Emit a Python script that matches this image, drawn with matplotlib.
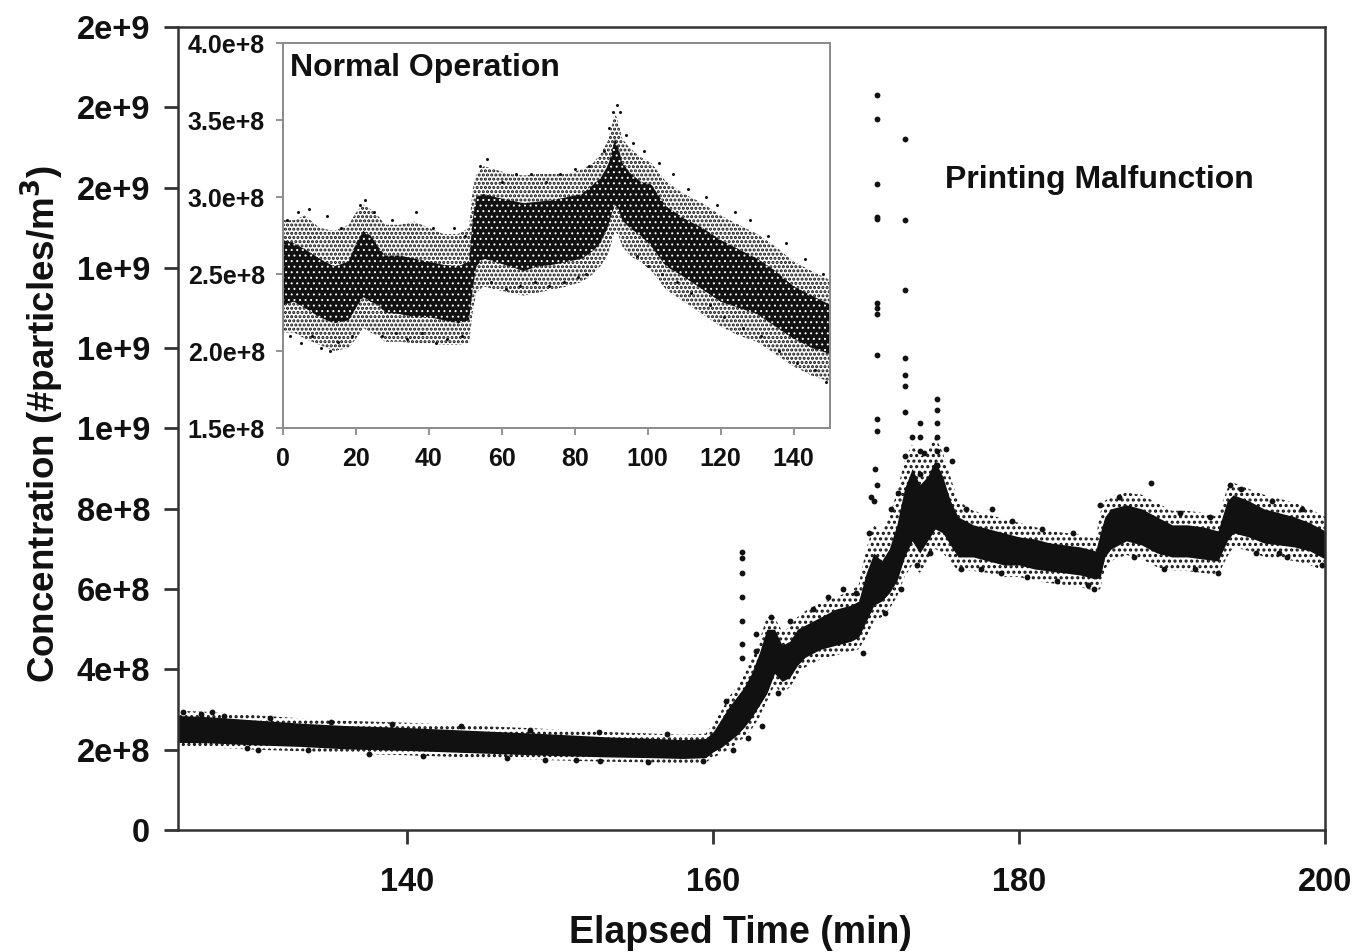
"""Particle concentration during printing: main trace with a normal-operation inset."""

import matplotlib

matplotlib.use("Agg")
import matplotlib.pyplot as plt
from matplotlib.ticker import FuncFormatter, MultipleLocator

plt.rcParams["font.family"] = ["Liberation Sans", "DejaVu Sans"]
plt.rcParams["hatch.linewidth"] = 1.5

INK = "#111111"
SPINE = "#333333"
INSET_FRAME = "#8a8a8a"
UNIT = 1e8  # all concentrations below are in units of 1e8 particles/m^3

# ---- main trace: dense core and outer extent of the point cloud ----
main_time = [125, 127, 130, 133, 136, 140, 143, 146, 150, 153, 156, 158, 159.5, 160, 160.5,
             161, 161.5, 162, 162.5, 163, 163.5, 164, 164.5, 165, 165.5, 166, 167, 168, 169,
             169.5, 170, 170.5, 171, 171.5, 172, 172.5, 173, 173.5, 174, 174.5, 175, 175.5,
             176, 177, 178, 179, 180, 181, 182, 183, 184, 185, 185.3, 185.6, 186, 187, 188,
             189, 190, 191, 192, 193, 193.6, 194, 195, 196, 197, 198, 199, 200]
main_low = [2.18, 2.17, 2.12, 2.08, 2.02, 1.98, 1.94, 1.90, 1.85, 1.82, 1.80, 1.78, 1.80, 1.95, 2.05,
            2.20, 2.35, 2.55, 2.80, 3.10, 3.40, 3.90, 3.70, 3.80, 4.10, 4.30, 4.50, 4.60, 4.70,
            4.80, 5.20, 5.60, 5.70, 5.90, 6.20, 6.80, 7.20, 6.90, 7.20, 7.50, 7.40, 7.10,
            6.80, 6.80, 6.70, 6.60, 6.60, 6.50, 6.45, 6.40, 6.35, 6.25, 6.30, 6.80, 7.00, 7.20, 7.10,
            6.90, 6.80, 6.80, 6.75, 6.70, 7.20, 7.40, 7.30, 7.15, 7.10, 7.05, 6.95, 6.75]
main_high = [2.85, 2.82, 2.74, 2.66, 2.60, 2.55, 2.50, 2.45, 2.38, 2.32, 2.28, 2.25, 2.28, 2.45, 2.75,
             3.05, 3.30, 3.55, 3.90, 4.40, 5.00, 5.00, 4.60, 4.70, 5.00, 5.10, 5.30, 5.50, 5.60,
             5.70, 6.40, 6.90, 6.70, 7.00, 7.60, 8.50, 9.00, 8.60, 8.80, 9.20, 8.80, 8.20,
             7.80, 7.60, 7.50, 7.40, 7.30, 7.25, 7.15, 7.10, 7.05, 6.95, 7.40, 7.80, 8.00, 8.10, 8.00,
             7.80, 7.60, 7.60, 7.55, 7.45, 8.20, 8.35, 8.20, 8.00, 7.90, 7.80, 7.65, 7.45]
main_outer_low = [2.06, 2.05, 2.00, 1.96, 1.90, 1.86, 1.82, 1.78, 1.73, 1.70, 1.68, 1.66, 1.68, 1.80,
                  1.90, 2.00, 2.15, 2.30, 2.50, 2.80, 3.20, 3.60, 3.40, 3.55, 3.85, 4.05, 4.25, 4.35,
                  4.45, 4.50, 4.80, 5.20, 5.30, 5.50, 5.80, 6.30, 6.60, 6.40, 6.70, 7.00, 6.90, 6.70,
                  6.45, 6.45, 6.40, 6.30, 6.30, 6.20, 6.15, 6.10, 6.05, 5.95, 6.00, 6.50, 6.70, 6.85,
                  6.75, 6.55, 6.45, 6.45, 6.40, 6.35, 6.80, 7.05, 6.95, 6.80, 6.75, 6.70, 6.60, 6.45]
main_outer_high = [2.97, 2.94, 2.86, 2.78, 2.72, 2.67, 2.62, 2.57, 2.50, 2.44, 2.40, 2.37, 2.40, 2.65,
                   2.95, 3.30, 3.55, 3.85, 4.30, 4.70, 5.30, 5.30, 4.95, 5.05, 5.30, 5.45, 5.65, 5.80,
                   5.95, 6.10, 7.00, 7.60, 7.40, 7.80, 8.40, 9.20, 9.60, 9.30, 9.40, 9.80, 9.40, 8.80,
                   8.20, 7.95, 7.85, 7.75, 7.65, 7.55, 7.45, 7.40, 7.35, 7.25, 7.90, 8.20, 8.30, 8.40,
                   8.35, 8.15, 7.95, 7.95, 7.90, 7.80, 8.50, 8.65, 8.50, 8.35, 8.25, 8.15, 8.00, 7.80]

# ---- main trace: individual points outside the cloud ----
main_pts_time = [125.3, 126.5, 127.2, 128, 129.5, 130.2, 131, 133.5, 135, 137.5, 139, 141, 143.5,
                 146.5, 148, 149, 151, 152.5, 152.6, 155.7, 157, 159.3,
                 160.8, 161.3, 162.3, 163.2, 163.8, 164.2, 165, 166.5, 167.5, 168.5, 169.3, 169.8,
                 170.2, 170.3, 170.7, 171.2, 171.6, 172.1, 172.3, 173.0, 173.3, 173.8, 174.2,
                 175.2, 175.6, 176.2, 176.5, 177.5, 178.2, 178.8, 179.5, 180.5, 181.5, 182.5,
                 183.5, 184.5, 184.9, 185.3, 186.5, 187.5, 188.6, 189.5, 190.5, 191.5, 192.5,
                 193.0, 193.8, 194.5, 195.5, 196.5, 197.0, 197.5, 198.5, 199.8,
                 # spike columns
                 170.7, 170.7, 170.7, 170.7, 170.7, 170.7, 170.7, 170.7, 170.7, 170.7, 170.7,
                 170.6, 170.5,
                 172.55, 172.55, 172.55, 172.55, 172.55, 172.55, 172.55, 172.55,
                 174.6, 174.6, 174.6, 174.6, 174.6, 174.6, 174.6,
                 173.5, 173.5, 173.5, 173.5,
                 161.9, 161.9, 161.9, 161.9, 161.9, 161.9, 161.9,
                 162.8, 162.8]
main_pts_conc = [2.95, 2.90, 2.95, 2.85, 2.05, 2.00, 2.80, 2.00, 2.70, 1.90, 2.65, 1.85, 2.60,
                 1.78, 2.50, 1.74, 1.75, 2.45, 1.72, 1.70, 2.40, 1.72,
                 3.20, 2.00, 2.30, 2.60, 5.30, 3.40, 5.20, 5.50, 5.80, 6.00, 5.90, 4.40,
                 7.40, 8.30, 8.60, 5.40, 8.00, 8.40, 6.00, 9.80, 6.60, 9.40, 6.90,
                 9.50, 9.20, 6.50, 8.00, 6.50, 8.00, 6.40, 7.70, 6.30, 7.50, 6.20,
                 7.40, 6.10, 6.00, 8.10, 8.30, 6.80, 8.64, 6.50, 7.90, 6.50, 7.80,
                 6.40, 8.60, 8.50, 6.90, 8.20, 6.90, 6.80, 8.00, 6.60,
                 18.31, 17.70, 16.08, 15.27, 15.22, 13.13, 13.01, 12.84, 11.84, 10.24, 9.93,
                 9.00, 8.20,
                 17.20, 15.19, 13.46, 11.75, 11.34, 11.05, 10.42, 9.32,
                 10.73, 10.46, 10.14, 9.79, 9.44, 9.09, 8.92,
                 10.14, 9.79, 9.44, 8.87,
                 6.92, 6.77, 6.40, 5.80, 5.21, 4.63, 4.28,
                 4.87, 4.46]

# ---- inset (normal operation): dense core and outer extent of the cloud ----
inset_time = [0, 3, 6, 10, 14, 18, 20, 22, 24, 26, 28, 32, 36, 40, 44, 48, 51, 52, 53, 55, 58, 62,
              66, 70, 74, 78, 82, 85, 87, 89, 90, 91, 92, 93, 95, 98, 101, 105, 110, 115, 120,
              125, 130, 135, 140, 145, 150]
inset_low = [2.30, 2.32, 2.28, 2.22, 2.18, 2.20, 2.28, 2.35, 2.32, 2.30, 2.25, 2.24, 2.22, 2.22,
             2.20, 2.18, 2.20, 2.40, 2.55, 2.60, 2.58, 2.55, 2.52, 2.55, 2.56, 2.58, 2.60, 2.65,
             2.70, 2.80, 2.88, 2.95, 2.92, 2.85, 2.80, 2.75, 2.68, 2.55, 2.48, 2.40, 2.32, 2.28,
             2.24, 2.16, 2.08, 2.02, 1.98]
inset_high = [2.72, 2.70, 2.66, 2.60, 2.55, 2.58, 2.70, 2.78, 2.75, 2.68, 2.62, 2.62, 2.60, 2.58,
              2.56, 2.55, 2.58, 2.85, 3.00, 3.02, 3.00, 2.98, 2.96, 2.97, 2.98, 3.00, 3.02, 3.08,
              3.12, 3.20, 3.28, 3.38, 3.32, 3.22, 3.16, 3.10, 3.08, 2.94, 2.86, 2.80, 2.72, 2.66,
              2.60, 2.52, 2.42, 2.36, 2.30]
inset_outer_low = [2.12, 2.12, 2.08, 2.04, 2.00, 2.02, 2.08, 2.15, 2.12, 2.10, 2.06, 2.06, 2.05,
                   2.05, 2.04, 2.04, 2.05, 2.25, 2.38, 2.42, 2.40, 2.38, 2.36, 2.38, 2.40, 2.42,
                   2.45, 2.50, 2.55, 2.62, 2.70, 2.78, 2.75, 2.68, 2.62, 2.58, 2.52, 2.40, 2.32,
                   2.24, 2.16, 2.10, 2.06, 1.98, 1.90, 1.84, 1.80]
inset_outer_high = [2.85, 2.85, 2.88, 2.80, 2.78, 2.82, 2.90, 2.95, 2.92, 2.88, 2.82, 2.82, 2.84,
                    2.80, 2.76, 2.76, 2.80, 3.05, 3.15, 3.20, 3.18, 3.15, 3.14, 3.15, 3.15, 3.15,
                    3.18, 3.22, 3.28, 3.36, 3.45, 3.55, 3.48, 3.38, 3.32, 3.26, 3.22, 3.10, 3.02,
                    2.96, 2.88, 2.82, 2.76, 2.68, 2.58, 2.52, 2.46]

# ---- inset: individual points outside the cloud ----
inset_pts_time = [1, 2, 4, 5, 7, 8, 10.5, 12, 13, 15, 16, 19, 21, 22.5, 25, 27, 30, 31, 34, 36.5,
                  38, 41, 42, 45, 47, 49, 50, 54, 56, 57, 60, 61, 64, 65, 68, 69, 72, 73, 76, 77,
                  80, 81, 83, 84, 88, 89.5, 90.5, 91.5, 92.5, 94, 96, 97, 99, 100, 103, 104, 107,
                  108, 111, 112, 116, 117, 119, 121, 124, 126, 128, 131, 133, 136, 138, 141, 143,
                  146, 148, 149]
inset_pts_conc = [2.85, 2.10, 2.90, 2.05, 2.92, 2.10, 2.02, 2.88, 2.00, 2.06, 2.80, 2.10, 2.95,
                  2.98, 2.90, 2.10, 2.85, 2.12, 2.08, 2.90, 2.12, 2.80, 2.05, 2.08, 2.80, 2.10,
                  2.75, 3.20, 3.25, 2.45, 3.10, 2.40, 3.15, 2.42, 3.15, 2.45, 3.10, 2.42, 3.15,
                  2.45, 3.18, 2.48, 2.50, 3.20, 3.30, 3.45, 3.55, 3.60, 3.55, 3.40, 3.35, 2.62,
                  3.30, 2.55, 3.22, 2.50, 3.15, 2.45, 3.05, 2.38, 3.00, 2.30, 2.95, 2.22, 2.90,
                  2.15, 2.85, 2.10, 2.75, 2.00, 2.70, 1.92, 2.60, 1.88, 2.50, 1.80]


def _scaled(values):
    return [v * UNIT for v in values]


def _exp_label(value, decimals):
    if value == 0:
        return "0"
    mantissa, exponent = f"{value:.{decimals}e}".split("e")
    return f"{mantissa}e+{int(exponent)}"


def _cloud(axis, time, outer_low, outer_high, low, high, halo_hatch, core_hatch):
    # halo of scattered points, then the dense core of the cloud
    axis.fill_between(time, _scaled(outer_low), _scaled(outer_high), facecolor="none",
                      edgecolor=INK, hatch=halo_hatch, linewidth=0)
    core = axis.fill_between(time, _scaled(low), _scaled(high), facecolor=INK, edgecolor="white",
                             hatch=core_hatch, linewidth=0)
    if core_hatch and hasattr(core, "set_hatch_linewidth"):
        core.set_hatch_linewidth(0.7)


def main():
    fig = plt.figure(figsize=(13.55, 9.52), dpi=100)

    ax = fig.add_axes((0.1314, 0.1282, 0.8465, 0.8434))
    _cloud(ax, main_time, main_outer_low, main_outer_high, main_low, main_high, "...", None)
    ax.plot(main_pts_time, _scaled(main_pts_conc), "o", color=INK, markersize=4.2, markeredgewidth=0)
    ax.set_xlim(125, 200)
    ax.set_ylim(0, 2e9)
    ax.set_xticks([140, 160, 180, 200])
    ax.yaxis.set_major_locator(MultipleLocator(2e8))
    ax.yaxis.set_major_formatter(FuncFormatter(lambda v, _: _exp_label(v, 0)))
    ax.tick_params(direction="out", length=10, width=2, colors=SPINE, labelcolor=INK,
                   labelsize=23.5, pad=10)
    ax.tick_params(axis="x", pad=17)
    for label in ax.get_xticklabels() + ax.get_yticklabels():
        label.set_fontweight("bold")
    for spine in ax.spines.values():
        spine.set_color(SPINE)
        spine.set_linewidth(1.8)
    ax.set_xlabel("Elapsed Time (min)", fontsize=27, fontweight="bold", color=INK)
    ax.xaxis.set_label_coords(0.49, -0.106)
    ax.xaxis.label.set_va("top")
    ax.set_ylabel("Concentration (#particles/m$^\\mathbf{3}$)", fontsize=26.5, fontweight="bold",
                  color=INK)
    ax.yaxis.set_label_coords(-0.098, 0.505)
    ax.text(175.15, 16.2e8, "Printing Malfunction", fontsize=23, fontweight="bold", color=INK,
            ha="left", va="center")

    inset = fig.add_axes((0.2089, 0.5504, 0.4037, 0.4044))
    inset.set_facecolor("white")
    _cloud(inset, inset_time, inset_outer_low, inset_outer_high, inset_low, inset_high,
           "....", "...")
    inset.plot(inset_pts_time, _scaled(inset_pts_conc), "o", color=INK, markersize=2.2,
               markeredgewidth=0)
    inset.set_xlim(0, 150)
    inset.set_ylim(1.5e8, 4.0e8)
    inset.xaxis.set_major_locator(MultipleLocator(20))
    inset.yaxis.set_major_locator(MultipleLocator(0.5e8))
    inset.yaxis.set_major_formatter(FuncFormatter(lambda v, _: _exp_label(v, 1)))
    inset.tick_params(direction="out", length=5, width=1.3, colors=INSET_FRAME, labelcolor=INK,
                      labelsize=18, pad=8)
    inset.tick_params(axis="x", pad=9)
    for label in inset.get_xticklabels() + inset.get_yticklabels():
        label.set_fontweight("bold")
    for spine in inset.spines.values():
        spine.set_color(INSET_FRAME)
        spine.set_linewidth(1.4)
    inset.text(1.9, 3.84e8, "Normal Operation", fontsize=23, fontweight="bold", color=INK,
               ha="left", va="center")

    fig.savefig("out.png", dpi=100, facecolor="white")


if __name__ == "__main__":
    main()
